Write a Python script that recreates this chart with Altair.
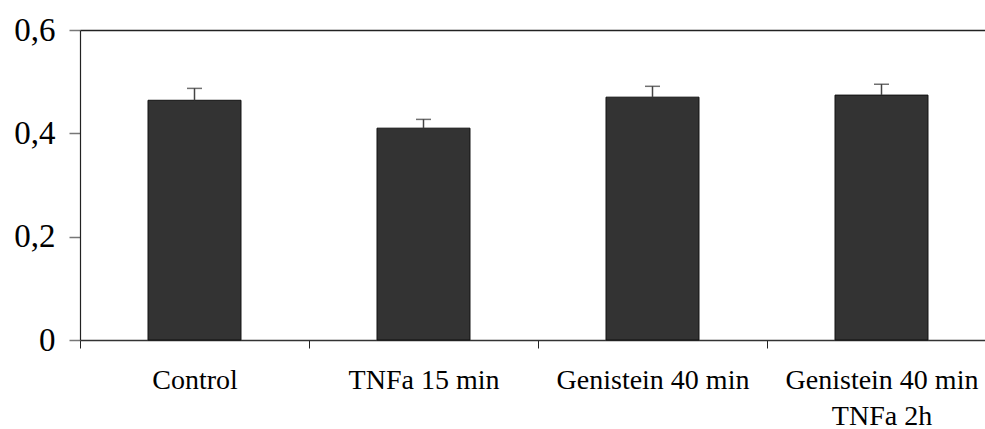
import altair as alt
import pandas as pd

categories = ["Control", "TNFa 15 min", "Genistein 40 min", "Genistein 40 min|TNFa 2h"]
values = [0.464, 0.410, 0.470, 0.474]
errors = [0.023, 0.017, 0.021, 0.021]
y_ticks = [0, 0.2, 0.4, 0.6]

df = pd.DataFrame({"cat": categories, "val": values, "err": errors})
df["upper"] = df["val"] + df["err"]

FONT = "Liberation Serif"

x_axis = alt.Axis(
    orient="bottom",
    title=None,
    labelAngle=0,
    labelFont=FONT,
    labelFontSize=28,
    labelColor="#000000",
    labelLineHeight=36,
    labelPadding=18,
    labelLimit=400,
    labelExpr="split(datum.label, '|')",
    tickBand="extent",
    tickSize=8,
    tickColor="#222222",
    domainColor="#333333",
    domainWidth=1.5,
    grid=False,
)
x_scale = alt.Scale(paddingInner=0, paddingOuter=0, range=[0, 916])

y_axis = alt.Axis(
    orient="left",
    title=None,
    values=y_ticks,
    labelExpr="datum.value == 0 ? '0' : replace(format(datum.value, '.1f'), '.', ',')",
    labelFont=FONT,
    labelFontSize=33,
    labelColor="#000000",
    labelPadding=14,
    tickSize=11,
    tickColor="#777777",
    tickWidth=1.5,
    domainColor="#222222",
    domainWidth=1.2,
    grid=True,
    gridWidth=1.5,
    gridColor={"condition": {"test": "datum.value >= 0.59", "value": "#222222"}, "value": "transparent"},
)
y_scale = alt.Scale(domain=[0, 0.6], nice=False)


def X():
    return alt.X("cat:N", sort=categories, scale=x_scale, axis=x_axis)


base = alt.Chart(df)

bars = base.mark_bar(
    width=alt.RelativeBandSize(0.406), color="#333333", stroke="#111111", strokeWidth=1
).encode(
    x=X(),
    y=alt.Y("val:Q", scale=y_scale, axis=y_axis),
)

stems = base.mark_rule(color="#444444", strokeWidth=1.5).encode(
    x=X(),
    y=alt.Y("val:Q", scale=y_scale, axis=y_axis),
    y2="upper:Q",
)

caps = base.mark_tick(color="#333333", thickness=1.5, size=15, orient="horizontal").encode(
    x=X(),
    y=alt.Y("upper:Q", scale=y_scale, axis=y_axis),
)

chart = (
    alt.layer(bars, stems, caps)
    .properties(
        width=905,
        height=310,
        autosize=alt.AutoSizeParams(type="none"),
        padding={"left": 80, "top": 30, "right": 0, "bottom": 89},
        background="white",
    )
    .configure_view(strokeWidth=0, stroke="transparent")
)

chart.save("out.html", embed_options={"renderer": "svg", "actions": False})
